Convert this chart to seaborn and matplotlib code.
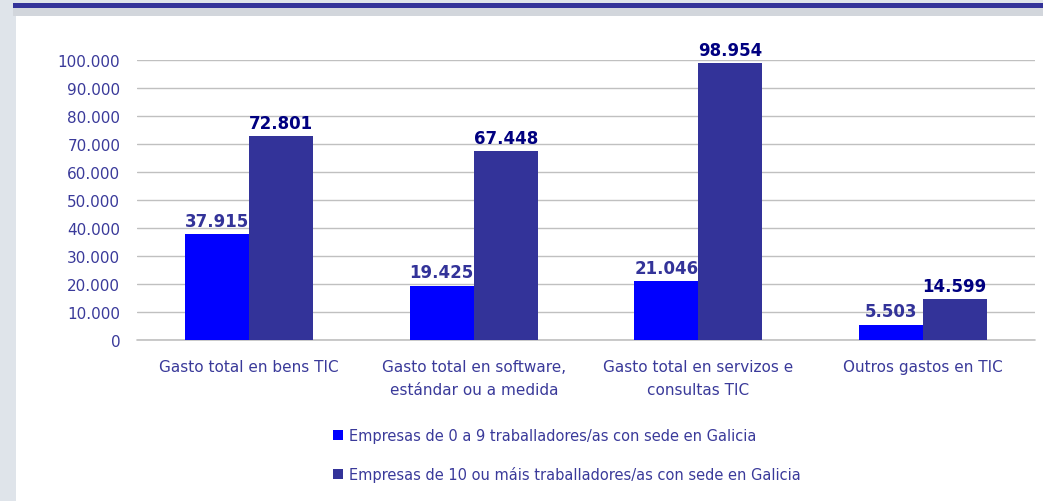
import numpy as np
import pandas as pd
import matplotlib
matplotlib.use('Agg')
import matplotlib.pyplot as plt
from matplotlib.patches import Rectangle
import seaborn as sns

categories = ["Gasto total en bens TIC",
              "Gasto total en software,\nestándar ou a medida",
              "Gasto total en servizos e\nconsultas TIC",
              "Outros gastos en TIC"]
series = ["Empresas de 0 a 9 traballadores/as con sede en Galicia",
          "Empresas de 10 ou máis traballadores/as con sede en Galicia"]
small_firms = [37915, 19425, 21046, 5503]
large_firms = [72801, 67448, 98954, 14599]
y_ticks = [0, 10000, 20000, 30000, 40000, 50000, 60000, 70000, 80000, 90000, 100000]

bar_colors = ["#0000FF", "#333399"]
label_colors = ["#333399", "#000080"]
text_col = "#3a3a9a"

df = pd.DataFrame({
    "cat": categories * 2,
    "serie": [series[0]] * 4 + [series[1]] * 4,
    "valor": small_firms + large_firms,
})

def fmt(v):
    return f"{int(v):,}".replace(",", ".")

sns.set_style("white")
plt.rcParams['font.family'] = ['DejaVu Sans']

fig = plt.figure(figsize=(10.43, 5.02), dpi=100)
fig.patch.set_facecolor("#dfe4ea")
# white panel + top band like the slide background
for rect, col in [((16/1043, 0, 1, 1 - 17/502), "white"),
                  ((13/1043, 1 - 9/502, 1, 5/502), "#333399"),
                  ((13/1043, 1 - 17/502, 1, 8/502), "#d2d6dc")]:
    fig.patches.append(Rectangle(rect[:2], rect[2], rect[3], transform=fig.transFigure,
                                 facecolor=col, edgecolor="none", zorder=-10))

ax = fig.add_axes([137/1043, 1 - 341/502, 898/1043, 280/502])
ax.set_facecolor("none")

sns.barplot(data=df, x="cat", y="valor", hue="serie", palette=bar_colors,
            width=0.57, gap=0, saturation=1, edgecolor="none", ax=ax, zorder=3)

for i, cont in enumerate(ax.containers):
    ax.bar_label(cont, labels=[fmt(v) for v in cont.datavalues], padding=3,
                 fontsize=12, fontweight="bold", color=label_colors[i], clip_on=False)

ax.set_ylim(0, 100000)
ax.set_xlim(-0.5, 3.5)
ax.set_yticks(y_ticks)
ax.set_yticklabels([fmt(v) for v in y_ticks])
ax.yaxis.grid(True, color="#c0c0c0", linewidth=1)
ax.axhline(0, color="#c0c0c0", linewidth=1.2, zorder=1, clip_on=False)
ax.set_axisbelow(True)
for s in ax.spines.values():
    s.set_visible(False)
ax.tick_params(axis="y", length=0, pad=12, labelsize=11, labelcolor=text_col)
ax.tick_params(axis="x", length=0, pad=14, labelsize=11, labelcolor=text_col)
for t in ax.get_xticklabels():
    t.set_linespacing(1.6)
ax.set_xlabel("")
ax.set_ylabel("")

h, l = ax.get_legend_handles_labels()
ax.get_legend().remove()
fig.legend(h, l, loc="center left", bbox_to_anchor=(320/1043, 1 - 456/502),
           frameon=False, fontsize=10.5, labelcolor=text_col, handlelength=0.7,
           handleheight=0.7, handletextpad=0.4, labelspacing=1.6)

fig.savefig("out.png", dpi=100, facecolor=fig.get_facecolor())
